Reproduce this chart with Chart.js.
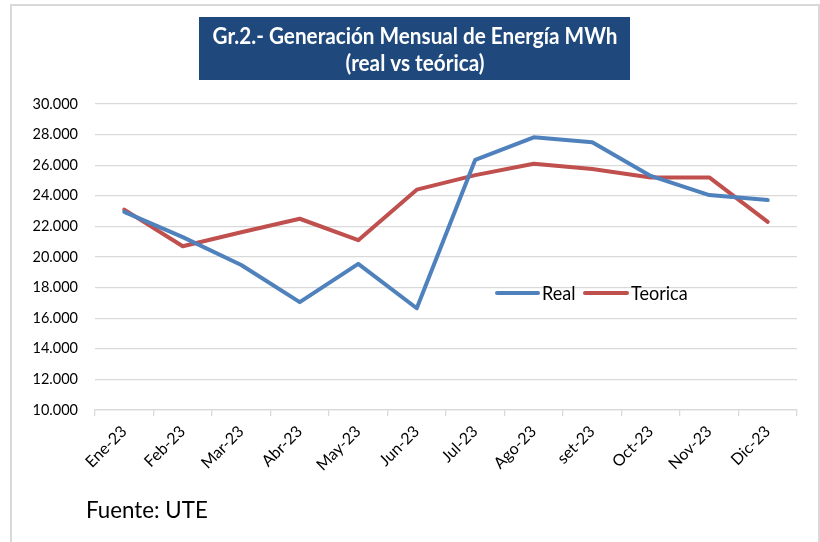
<!DOCTYPE html>
<html>
<head>
<meta charset="utf-8">
<script src="https://cdn.jsdelivr.net/npm/chart.js@4/dist/chart.umd.min.js"></script>
<style>
  html, body { margin: 0; padding: 0; background: #fff; }
  #wrap { position: relative; width: 820px; height: 542px; }
  canvas { display: block; }
</style>
</head>
<body>
<div id="wrap"><canvas id="c" width="820" height="542"></canvas></div>
<script>
const categories = ["Ene-23","Feb-23","Mar-23","Abr-23","May-23","Jun-23","Jul-23","Ago-23","set-23","Oct-23","Nov-23","Dic-23"];
const realValues = [22950, 21300, 19480, 17050, 19550, 16650, 26350, 27820, 27500, 25300, 24050, 23720];
const teoricaValues = [23100, 20700, 21620, 22500, 21100, 24400, 25350, 26100, 25750, 25200, 25200, 22300];
const yTicks = { min: 10000, max: 30000, step: 2000 };
const titleLines = ["Gr.2.- Generación Mensual de Energía MWh", "(real vs teórica)"];
const sourceText = "Fuente: UTE";
const seriesNames = ["Real", "Teorica"];

const BLUE = "#4F81BD", RED = "#C0504D";
const FONT = "Lato, 'Open Sans', sans-serif";

function drawScaledText(ctx, text, cx, cy, sx) {
  ctx.save();
  ctx.translate(cx, cy);
  ctx.scale(sx, 1);
  ctx.fillText(text, 0, 0);
  ctx.restore();
}

const decorPlugin = {
  id: "decor",
  beforeDraw(chart) {
    const ctx = chart.ctx;
    ctx.save();
    ctx.fillStyle = "#fff";
    ctx.fillRect(0, 0, chart.width, chart.height);
    // outer frame
    ctx.strokeStyle = "#d9d9d9";
    ctx.lineWidth = 2;
    ctx.beginPath();
    ctx.moveTo(11, 560); ctx.lineTo(11, 5); ctx.lineTo(819, 5); ctx.lineTo(819, 560);
    ctx.stroke();
    // title box
    ctx.fillStyle = "#1F497D";
    ctx.fillRect(199, 17, 431, 63);
    ctx.fillStyle = "#fff";
    ctx.font = "bold 23px " + FONT;
    ctx.textAlign = "center";
    ctx.textBaseline = "middle";
    drawScaledText(ctx, titleLines[0], 415, 37, 0.9);
    drawScaledText(ctx, titleLines[1], 415, 64, 0.9);
    // source
    ctx.fillStyle = "#000";
    ctx.textAlign = "left";
    ctx.textBaseline = "alphabetic";
    ctx.font = "23px " + FONT;
    drawScaledText(ctx, sourceText, 86, 518, 0.97);
    ctx.restore();
  },
  afterDatasetsDraw(chart) {
    // legend inside plot area
    const ctx = chart.ctx;
    const y = 293;
    const items = [
      { x0: 497, x1: 538, tx: 542, color: BLUE, label: seriesNames[0] },
      { x0: 585, x1: 627, tx: 631, color: RED, label: seriesNames[1] }
    ];
    ctx.save();
    ctx.font = "19px " + FONT;
    ctx.textBaseline = "middle";
    ctx.textAlign = "left";
    items.forEach(it => {
      ctx.strokeStyle = it.color;
      ctx.lineWidth = 4;
      ctx.lineCap = "round";
      ctx.beginPath(); ctx.moveTo(it.x0, y); ctx.lineTo(it.x1, y); ctx.stroke();
      ctx.fillStyle = "#000";
      drawScaledText(ctx, it.label, it.tx, y + 1, 0.95);
    });
    ctx.restore();
  }
};

new Chart(document.getElementById("c"), {
  type: "line",
  data: {
    labels: categories,
    datasets: [
      { label: seriesNames[0], data: realValues, borderColor: BLUE, backgroundColor: BLUE, borderWidth: 4, pointRadius: 0, tension: 0, borderCapStyle: "round", borderJoinStyle: "round" },
      { label: seriesNames[1], data: teoricaValues, borderColor: RED, backgroundColor: RED, borderWidth: 4, pointRadius: 0, tension: 0, borderCapStyle: "round", borderJoinStyle: "round" }
    ]
  },
  options: {
    responsive: false,
    animation: false,
    devicePixelRatio: 1,
    layout: { padding: { top: 104, left: 0, right: 23, bottom: 0 } },
    plugins: { legend: { display: false }, title: { display: false }, tooltip: { enabled: false } },
    scales: {
      x: {
        offset: true,
        grid: { display: true, drawOnChartArea: false, drawTicks: true, tickLength: 6, color: "#d9d9d9", lineWidth: 1.3, offset: true },
        border: { display: true, color: "#d9d9d9", width: 1.3 },
        ticks: { minRotation: 45, maxRotation: 45, color: "#000", font: { family: FONT, size: 16 }, padding: 6, autoSkip: false },
        afterFit(scale) { scale.height = 132; }
      },
      y: {
        min: yTicks.min, max: yTicks.max,
        grid: { color: "#d9d9d9", lineWidth: 1.3, drawTicks: false },
        border: { display: false },
        ticks: {
          stepSize: yTicks.step, color: "#000", padding: 17, font: { family: FONT, size: 14.5 },
          callback: v => v.toLocaleString("de-DE")
        },
        afterFit(scale) { scale.width = 95; }
      }
    }
  },
  plugins: [decorPlugin]
});
</script>
</body>
</html>
